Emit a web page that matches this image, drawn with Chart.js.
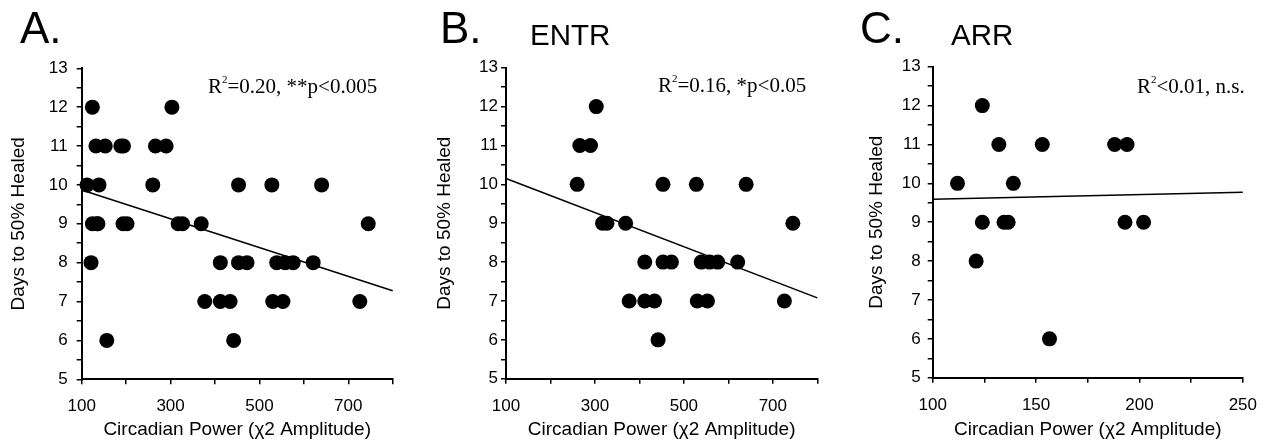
<!DOCTYPE html>
<html>
<head>
<meta charset="utf-8">
<script src="https://cdn.jsdelivr.net/npm/chart.js@4/dist/chart.umd.min.js"></script>
<style>
  body { margin: 0; background: #fff; }
  #wrap { position: relative; width: 1269px; height: 447px; overflow: hidden; }
  canvas { position: absolute; top: 0; }
  .lbl { position: absolute; font-family: "Liberation Sans", Arial, sans-serif; color: #000; line-height: 1; white-space: nowrap; }
  .stat { position: absolute; font-family: "Liberation Serif", "Times New Roman", serif; font-size: 21px; line-height: 1; color: #000; white-space: nowrap; }
  .stat sup { font-size: 11px; vertical-align: 0; position: relative; top: -10px; }
</style>
</head>
<body>
<div id="wrap">
  <canvas id="chartA" width="415" height="447" style="left:0px"></canvas>
  <canvas id="chartB" width="414" height="447" style="left:426px"></canvas>
  <canvas id="chartC" width="411" height="447" style="left:858px"></canvas>

  <div class="lbl" style="left:20px; top:6px; font-size:44px;">A.</div>
  <div class="lbl" style="left:440px; top:6px; font-size:44px;">B.</div>
  <div class="lbl" style="left:530px; top:20px; font-size:29.5px;">ENTR</div>
  <div class="lbl" style="left:951px; top:20px; font-size:29.5px;">ARR</div>
  <div class="lbl" style="left:860px; top:6px; font-size:44px;">C.</div>

  <div class="stat" style="left:208px; top:76px;">R<sup>2</sup>=0.20, **p&lt;0.005</div>
  <div class="stat" style="left:658px; top:75px;">R<sup>2</sup>=0.16, *p&lt;0.05</div>
  <div class="stat" style="left:1137px; top:76px;">R<sup>2</sup>&lt;0.01, n.s.</div>
</div>
<script>
// ENTR group (panel B)
const entrX = [303, 266, 290, 260, 453, 528, 640, 317, 327, 369, 745, 412, 453, 472, 539, 558, 576, 621, 377, 412, 434, 530, 553, 726, 442];
const entrY = [12, 11, 11, 10, 10, 10, 10, 9, 9, 9, 9, 8, 8, 8, 8, 8, 8, 8, 7, 7, 7, 7, 7, 7, 6];

// ARR group (panel C)
const arrX = [112, 124, 132, 153, 188, 194, 139, 124, 134.5, 136.5, 193, 202, 121, 156.5];
const arrY = [10, 12, 11, 11, 11, 11, 10, 9, 9, 9, 9, 9, 8, 6];

// regression lines, end points
const fitAX = [100, 800];
const fitAY = [9.87, 7.28];
const fitBX = [100, 800];
const fitBY = [10.15, 7.08];
const fitCX = [100, 250];
const fitCY = [9.59, 9.77];

const yTitle = 'Days to 50% Healed';
const xTitle = 'Circadian Power (\u03c72 Amplitude)';
const sans = '"Liberation Sans", Arial, sans-serif';

function toPoints(xs, ys) {
  return xs.map((x, i) => ({ x: x, y: ys[i] }));
}

function makeChart(id, pts, fitX, fitY, o) {
  const ctx = document.getElementById(id).getContext('2d');
  new Chart(ctx, {
    type: 'scatter',
    data: {
      datasets: [
        {
          data: pts,
          pointRadius: 7.5,
          pointHoverRadius: 7.5,
          backgroundColor: '#000',
          borderWidth: 0,
          clip: false
        },
        {
          type: 'line',
          data: toPoints(fitX, fitY),
          borderColor: '#000',
          borderWidth: 1.5,
          pointRadius: 0,
          fill: false,
          clip: false
        }
      ]
    },
    options: {
      responsive: false,
      animation: false,
      layout: { autoPadding: false, padding: { left: 0, top: o.top, right: o.right, bottom: 0 } },
      plugins: { legend: { display: false }, tooltip: { enabled: false } },
      scales: {
        x: {
          type: 'linear',
          min: o.xmin,
          max: o.xmax,
          afterFit: s => { s.height = o.xh; },
          border: { color: '#000', width: 2 },
          grid: { drawOnChartArea: false, tickLength: 5, color: '#000', lineWidth: 1.5 },
          ticks: {
            stepSize: o.xstep,
            autoSkip: false,
            maxRotation: 0,
            padding: 12,
            color: '#000',
            font: { family: sans, size: 17 },
            callback: v => ((v - o.xmin) % o.xlab === 0 ? v : '')
          },
          title: { display: true, text: xTitle, color: '#000', font: { family: sans, size: 19 }, padding: { top: 0, bottom: 6 } }
        },
        y: {
          min: 5,
          max: 13,
          afterFit: s => { s.width = o.yw; },
          border: { color: '#000', width: 2 },
          grid: { drawOnChartArea: false, tickLength: 5, color: '#000', lineWidth: 1.5 },
          ticks: {
            stepSize: 0.5,
            autoSkip: false,
            padding: o.ypad,
            color: '#000',
            font: { family: sans, size: 17 },
            callback: v => (Number.isInteger(v) ? v : '')
          },
          title: { display: true, text: yTitle, color: '#000', font: { family: sans, size: 19 }, padding: { top: 7.5, bottom: 0 } }
        }
      }
    }
  });
}

const allX = entrX.concat(arrX);
const allY = entrY.concat(arrY);

makeChart('chartA', toPoints(allX, allY), fitAX, fitAY,
  { top: 68.3, right: 22.3, xh: 67.7, yw: 81.7, xmin: 100, xmax: 800, xstep: 100, xlab: 200, ypad: 9 });
makeChart('chartB', toPoints(entrX, entrY), fitBX, fitBY,
  { top: 67.7, right: 22.7, xh: 68.3, yw: 80, xmin: 100, xmax: 800, xstep: 100, xlab: 200, ypad: 3 });
makeChart('chartC', toPoints(arrX, arrY), fitCX, fitCY,
  { top: 66.7, right: 25, xh: 69.3, yw: 74.7, xmin: 100, xmax: 250, xstep: 25, xlab: 50, ypad: 7 });
</script>
</body>
</html>
